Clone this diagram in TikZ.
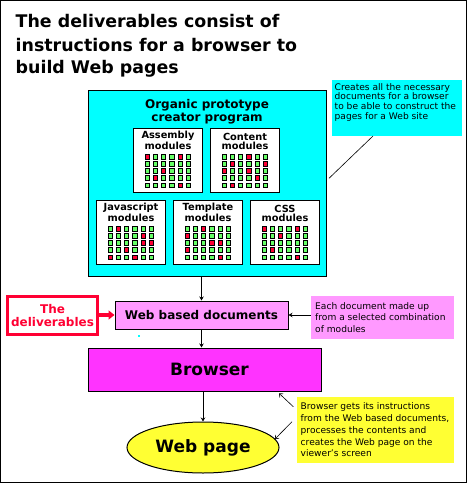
\documentclass[tikz,border=0pt]{standalone}
\usepackage{fontspec}
\setmainfont{DejaVu Sans}
\usetikzlibrary{arrows.meta,calc,shapes.geometric}
\definecolor{cyanC}{HTML}{00FFFF}
\definecolor{pinkC}{HTML}{FF99FF}
\definecolor{magC}{HTML}{FF33FF}
\definecolor{yelC}{HTML}{FFFF33}
\definecolor{redC}{HTML}{FF0033}
\definecolor{greenC}{HTML}{66FF66}
\newcommand\drawmodule[5]{%
  \node[modbox, anchor=north west] (#1) at (#2,#3) {};
  \node[modtitle, anchor=base] (#1t) at ($(#1.north)+(0,21.3)$) {#4\\modules};
  \foreach \ii in {0,...,4}{\foreach \jj in {0,...,5}{
    \node[sq] (#1g\ii\jj) at ($(#1.north west)+(14+8.27*\jj,28.7+7.08*\ii)$) {};}}
  \foreach \ii/\jj in {#5}{\node[sq, fill=redC] (#1r\ii\jj) at (#1g\ii\jj) {};}
}
\begin{document}
\begin{tikzpicture}[x=1pt,y=-1pt,
  titletext/.style={font=\fontsize{17.4}{23}\selectfont\bfseries, inner sep=0pt, anchor=base west},
  progbox/.style={draw=black, line width=1pt, fill=cyanC, minimum width=238pt, minimum height=185pt, inner sep=0pt},
  modbox/.style={draw=black, line width=1pt, fill=white, minimum width=69pt, minimum height=64pt, inner sep=0pt},
  modtitle/.style={font=\fontsize{9.8}{9}\selectfont\bfseries, align=center, inner sep=0pt},
  sq/.style={draw=black, line width=0.5pt, fill=greenC, minimum size=4.4pt, inner sep=0pt},
  notetext/.style={font=\fontsize{9.1}{9.7}\selectfont, align=left, inner sep=0pt, anchor=base west},
  arr/.style={-{Stealth[length=4pt,width=4.5pt]}, line width=0.8pt},
  barb/.style={-{Straight Barb[length=3pt,width=5pt]}, line width=0.6pt}]
\useasboundingbox (0,0) rectangle (468,484);
\fill[white] (0,0) rectangle (468,484);
\draw[line width=1pt] (0.5,0.5) rectangle (466.5,482.5);

% title
\node[titletext] (title1) at (15.5,27.3) {The deliverables consist of};
\node[titletext] (title2) at (15.5,51.7) {instructions for a browser to};
\node[titletext] (title3) at (15.5,73.3) {build Web pages};

% program box
\node[progbox] (prog) at (207,183.5) {};
\node[font=\fontsize{12}{13.4}\selectfont\bfseries, align=center, inner sep=0pt, anchor=base] (progt) at (207,121.7) {Organic prototype\\creator program};

\drawmodule{asm}{133}{128}{Assembly}{0/0,0/4,2/2,3/1,4/4}
\drawmodule{cnt}{210}{128}{Content}{0/3,1/1,1/5,2/0,2/3,3/4,4/1}
\drawmodule{js}{96}{200}{Javascript}{0/1,1/4,2/4,2/5,3/2,4/0,4/3}
\drawmodule{tpl}{173}{200}{Template}{0/2,1/0,2/3,2/4,3/0,4/4}
\drawmodule{css}{250}{200}{CSS}{0/0,0/4,1/2,3/1,4/4}

% cyan note
\node[fill=cyanC, minimum width=130pt, minimum height=56pt, inner sep=0pt] (note1) at (397,108) {};
\node[notetext] (note1t) at (334.5,119.1) {Creates all the necessary\\documents for a browser\\to be able to construct the\\pages for a Web site};
\coordinate (c1a) at (373,136);
\coordinate (c1b) at (329,178.3);
\draw[line width=0.6pt] (c1a) -- (c1b);

% web based documents
\node[draw=black, line width=1pt, fill=pinkC, minimum width=173pt, minimum height=28pt, inner sep=0pt,
      font=\fontsize{12}{13}\selectfont\bfseries] (webdocs) at (201.5,315) {Web based documents};

% deliverables
\node[draw=redC, line width=3pt, fill=white, minimum width=90pt, minimum height=38pt, inner sep=0pt] (deliv) at (52.5,315.5) {};
\node[font=\fontsize{12}{13}\selectfont\bfseries, text=redC, align=center, inner sep=0pt, anchor=base] (delivt) at (52.5,326) {The\\deliverables};
\draw[redC, line width=3.5pt, -{Triangle[length=6pt,width=9pt]}] (deliv.east |- webdocs.west) -- (webdocs.west);

% pink note
\node[fill=pinkC, minimum width=143pt, minimum height=43pt, inner sep=0pt] (note2) at (382.5,317.5) {};
\node[notetext, font=\fontsize{9.1}{11.7}\selectfont] (note2t) at (315,332.4) {Each document made up\\from a selected combination\\of modules};
\draw[arr] (note2.west |- webdocs.east) -- (webdocs.east);

% stray dot
\fill[cyanC] (137.8,335) rectangle (139.8,337);

% browser
\node[draw=black, line width=1pt, fill=magC, minimum width=233pt, minimum height=43pt, inner sep=0pt,
      font=\fontsize{17}{18}\selectfont\bfseries] (browser) at (204.5,369.5) {\hspace*{10pt}Browser};

% web page
\node[ellipse, draw=black, line width=1pt, fill=yelC, minimum width=152pt, minimum height=51pt, inner sep=0pt,
      font=\fontsize{17}{18}\selectfont\bfseries] (page) at (203,447.5) {Web page};

% yellow note
\node[fill=yelC, minimum width=157pt, minimum height=66pt, inner sep=0pt] (note3) at (375.5,430) {};
\node[notetext, font=\fontsize{9.1}{11.9}\selectfont] (note3t) at (300.5,456.9) {Browser gets its instructions\\from the Web based documents,\\processes the contents and\\creates the Web page on the\\viewer's screen};
\coordinate (y1a) at (293.3,406.7);
\coordinate (y1b) at (279,393.3);
\coordinate (y2a) at (292,421.7);
\coordinate (y2b) at (275,439);
\draw[barb] (y1a) -- (y1b);
\draw[barb] (y2a) -- (y2b);

% flow arrows
\draw[arr] (prog.south -| webdocs.north) -- (webdocs.north);
\draw[arr] (webdocs.south) -- (webdocs.south |- browser.north);
\draw[arr] (browser.south -| page.north) -- (page.north);
\end{tikzpicture}
\end{document}
